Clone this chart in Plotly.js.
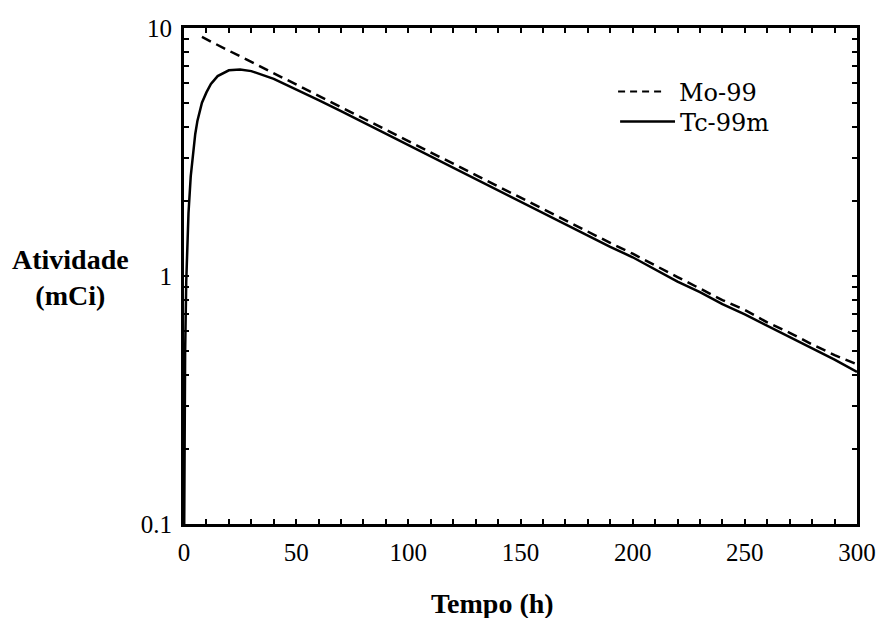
<!DOCTYPE html>
<html>
<head>
<meta charset="utf-8">
<script src="https://cdn.plot.ly/plotly-3.0.1.min.js"></script>
<style>
  html, body { margin: 0; padding: 0; background: #ffffff; }
  #chart { width: 876px; height: 618px; }
</style>
</head>
<body>
<div id="chart"></div>
<script>
// Mo-99 activity (mCi) vs time (h)
const moTime = [8, 10, 20, 30, 40, 50, 60, 70, 80, 90, 100, 110, 120, 130, 140, 150, 160, 170, 180, 190, 200, 210, 220, 230, 240, 250, 260, 270, 280, 290, 300];
const moActivity = [9.2, 9.0, 8.1, 7.3, 6.57, 5.92, 5.33, 4.80, 4.32, 3.89, 3.50, 3.15, 2.84, 2.55, 2.30, 2.07, 1.86, 1.68, 1.51, 1.36, 1.23, 1.10, 0.99, 0.89, 0.80, 0.73, 0.65, 0.59, 0.53, 0.48, 0.44];

// Tc-99m activity (mCi) vs time (h)
const tcTime = [0.1, 0.2, 0.5, 1, 1.5, 2, 3, 4, 5, 6, 8, 10, 12, 15, 20, 25, 30, 40, 50, 60, 70, 80, 90, 100, 110, 120, 130, 140, 150, 160, 170, 180, 190, 200, 210, 220, 230, 240, 250, 260, 270, 280, 290, 300];
const tcActivity = [0.10, 0.20, 0.49, 0.95, 1.38, 1.79, 2.52, 3.17, 3.73, 4.23, 5.0, 5.5, 5.95, 6.4, 6.75, 6.8, 6.7, 6.24, 5.67, 5.12, 4.62, 4.16, 3.75, 3.37, 3.04, 2.74, 2.46, 2.22, 2.00, 1.79, 1.62, 1.46, 1.31, 1.19, 1.06, 0.95, 0.86, 0.77, 0.70, 0.63, 0.57, 0.51, 0.46, 0.41];

// Axis ticks
const xTickVals = [0,10,20,30,40,50,60,70,80,90,100,110,120,130,140,150,160,170,180,190,200,210,220,230,240,250,260,270,280,290,300];
const xTickText = ['0','','','','','50','','','','','100','','','','','150','','','','','200','','','','','250','','','','','300'];
const yTickVals = [0.1,0.2,0.3,0.4,0.5,0.6,0.7,0.8,0.9,1,2,3,4,5,6,7,8,9,10];
const yTickText = ['0.1','','','','','','','','','1','','','','','','','','','10'];

const seriesNames = ['Mo-99', 'Tc-99m'];
const xTitle = 'Tempo (h)';
const yTitle = 'Atividade<br>(mCi)';

const serif = '"Liberation Serif", "Times New Roman", Times, serif';
const legendFont = '"DejaVu Serif", "Liberation Serif", serif';

const traces = [
  {
    x: moTime, y: moActivity, name: seriesNames[0], mode: 'lines', type: 'scatter',
    line: { color: '#000', width: 2.5, dash: '10px,6px' }, showlegend: false
  },
  {
    x: tcTime, y: tcActivity, name: seriesNames[1], mode: 'lines', type: 'scatter',
    line: { color: '#000', width: 2.5 }, showlegend: false
  }
];

const layout = {
  width: 876, height: 618,
  margin: { l: 184, r: 19, t: 28, b: 94 },
  paper_bgcolor: '#fff', plot_bgcolor: '#fff',
  showlegend: false,
  font: { family: serif, color: '#000' },
  xaxis: {
    range: [0, 300], tickvals: xTickVals, ticktext: xTickText,
    ticks: 'inside', ticklen: 5, tickwidth: 2, tickcolor: '#000',
    showline: true, linecolor: '#000', linewidth: 3, mirror: 'allticks',
    showgrid: false, zeroline: false,
    tickfont: { family: serif, size: 25, color: '#000' },
    ticklabelstandoff: 4
  },
  yaxis: {
    type: 'log', range: [-1, 1], tickvals: yTickVals, ticktext: yTickText,
    ticks: 'inside', ticklen: 5, tickwidth: 2, tickcolor: '#000',
    showline: true, linecolor: '#000', linewidth: 3, mirror: 'allticks',
    showgrid: false, zeroline: false,
    tickfont: { family: serif, size: 25, color: '#000' },
    ticklabelstandoff: 4
  },
  shapes: [
    { type: 'line', xref: 'paper', yref: 'paper', x0: 0.645, x1: 0.715, y0: 0.872, y1: 0.872,
      line: { color: '#000', width: 2, dash: '7px,5px' } },
    { type: 'line', xref: 'paper', yref: 'paper', x0: 0.648, x1: 0.7296, y0: 0.8115, y1: 0.8115,
      line: { color: '#000', width: 2.5 } }
  ],
  annotations: [
    { text: seriesNames[0], xref: 'paper', yref: 'paper', x: 0.734, y: 0.869, xanchor: 'left', yanchor: 'middle',
      showarrow: false, borderpad: 0, font: { family: legendFont, size: 24, color: '#000' } },
    { text: seriesNames[1], xref: 'paper', yref: 'paper', x: 0.735, y: 0.8085, xanchor: 'left', yanchor: 'middle',
      showarrow: false, borderpad: 0, font: { family: legendFont, size: 24, color: '#000' } },
    { text: '<b>' + yTitle + '</b>', xref: 'paper', yref: 'paper', x: -0.168, y: 0.496, xanchor: 'center', yanchor: 'middle',
      showarrow: false, align: 'center', font: { family: serif, size: 28, color: '#000' } },
    { text: '<b>' + xTitle + '</b>', xref: 'paper', yref: 'paper', x: 0.459, y: -0.161, xanchor: 'center', yanchor: 'middle',
      showarrow: false, font: { family: serif, size: 28, color: '#000' } }
  ]
};

Plotly.newPlot('chart', traces, layout, { displayModeBar: false, staticPlot: true });
</script>
</body>
</html>
